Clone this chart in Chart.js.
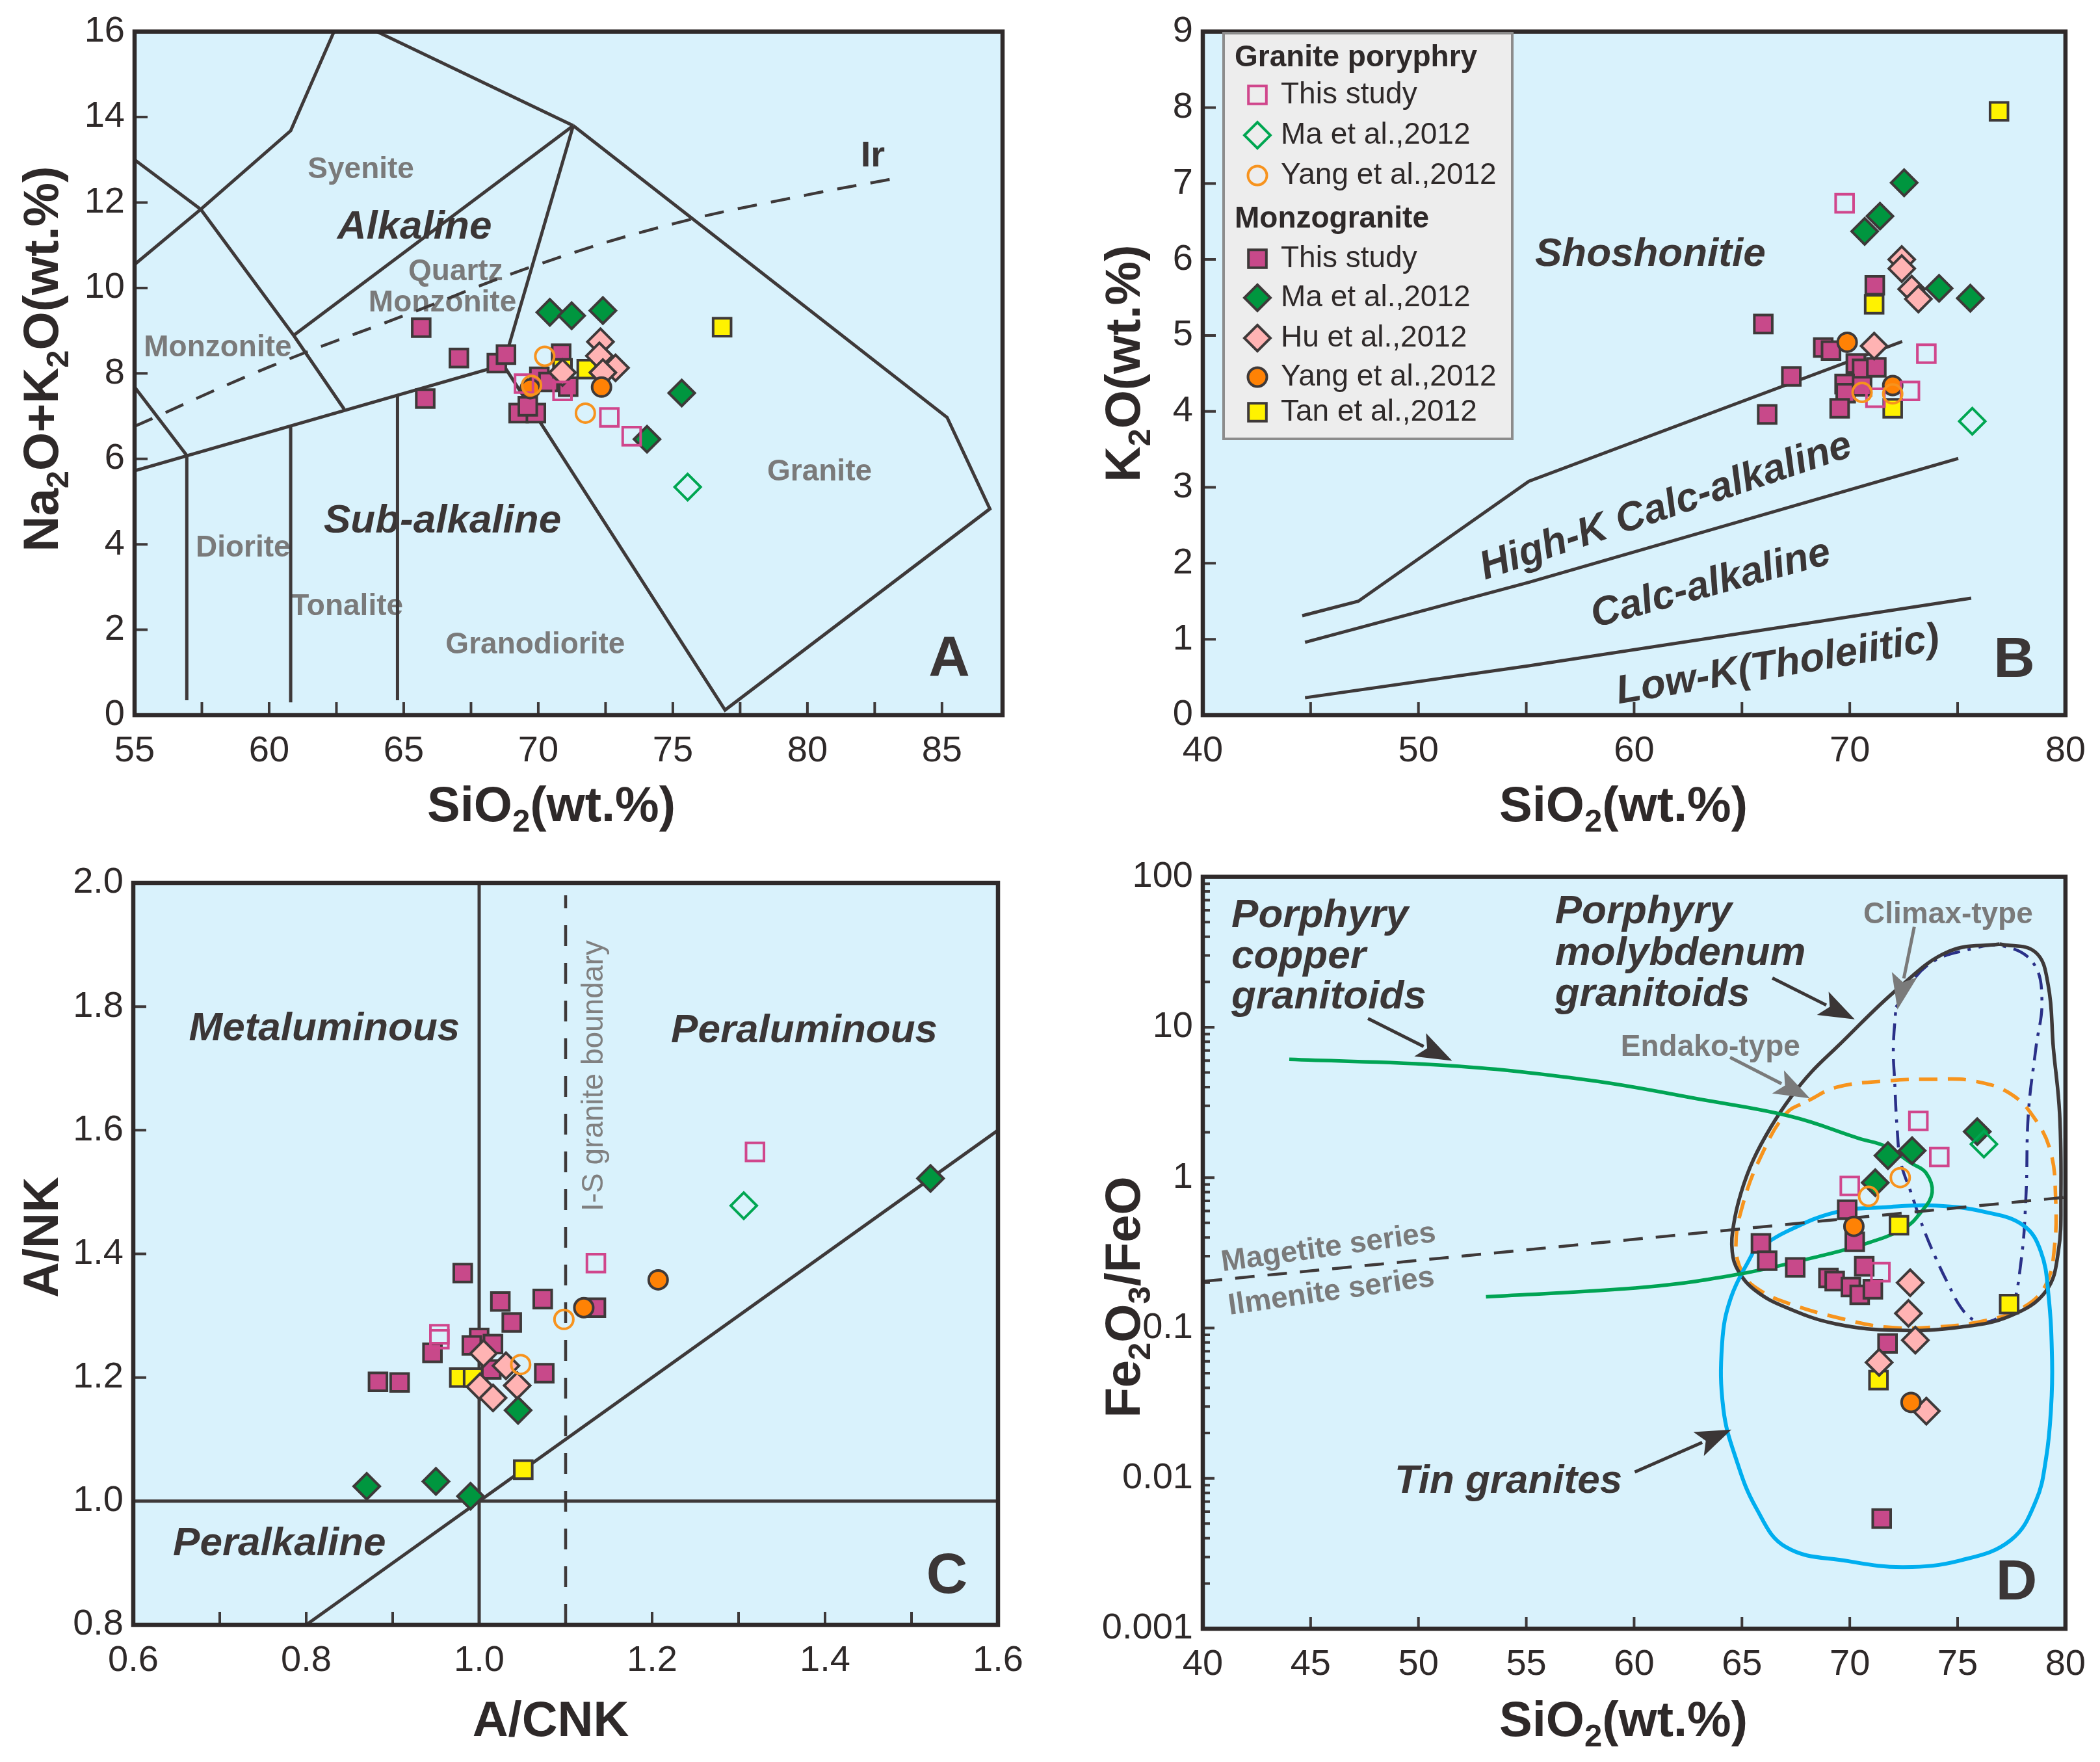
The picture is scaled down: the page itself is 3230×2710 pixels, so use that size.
<!DOCTYPE html>
<html lang="pt-br">
<head>
<meta charset="UTF-8">
<title>Diagramas geoquimicos</title>
<script src="https://cdn.jsdelivr.net/npm/chart.js"></script>
<style>
  body { margin: 0; background: #ffffff; }
  .janela { position: relative; width: 3230px; height: 2710px; background: #ffffff; overflow: hidden; }
  .janela canvas { position: absolute; }
</style>
</head>
<body>
<div class="janela">
  <canvas id="graficoA" width="1620" height="1330" style="left:0px;top:0px"></canvas>
  <canvas id="graficoB" width="1590" height="1330" style="left:1640px;top:0px"></canvas>
  <canvas id="graficoC" width="1620" height="1410" style="left:0px;top:1300px"></canvas>
  <canvas id="graficoD" width="1590" height="1410" style="left:1640px;top:1300px"></canvas>
</div>

<script>
const FONTE = '"Liberation Sans", Arial, sans-serif';
const COR_TEXTO = '#2E2929';
const COR_LINHA = '#3E3939';

// ===== Painel A: TAS (SiO2 x Na2O+K2O) =====
const tasXRotulos = [55, 60, 65, 70, 75, 80, 85];
const tasXMarcas = [57.5, 60, 62.5, 65, 67.5, 70, 72.5, 75, 77.5, 80, 82.5, 85];
const tasYRotulos = [0, 2, 4, 6, 8, 10, 12, 14, 16];
const tasYMarcas = [2, 4, 6, 8, 10, 12, 14];

const tasGpThis = [[69.47, 7.76], [70.90, 7.59], [72.64, 6.97], [73.47, 6.53]];
const tasGpMa = [[75.55, 5.34]];
const tasGpYang = [[70.24, 8.40], [71.75, 7.07], [69.75, 7.72]];
const tasMgThis = [[65.65, 9.07], [67.05, 8.36], [68.46, 8.24], [68.80, 8.44], [70.85, 8.46], [70.04, 7.92],
  [70.38, 7.80], [71.11, 7.69], [65.80, 7.41], [69.27, 7.07], [69.91, 7.07], [69.61, 7.23]];
const tasMgMa = [[70.43, 9.43], [71.24, 9.35], [72.40, 9.47], [75.33, 7.54], [74.04, 6.46]];
const tasMgHu = [[72.31, 8.74], [72.27, 8.41], [72.87, 8.13], [72.40, 8.02], [70.90, 8.02]];
const tasMgYang = [[72.35, 7.68], [69.70, 7.64]];
const tasMgTan = [[71.80, 8.10], [70.90, 8.12], [76.83, 9.08]];

const tasLinhas = [
  [[55, 10.55], [57.46, 11.84], [60.80, 13.68], [62.41, 16]],
  [[55, 13.0], [57.46, 11.84]],
  [[57.46, 11.84], [60.91, 8.89], [62.79, 7.16]],
  [[60.91, 8.89], [71.3, 13.8]],
  [[64.0, 16], [71.3, 13.8]],
  [[71.3, 13.8], [68.7, 8.2]],
  [[71.3, 13.8], [85.19, 6.97], [86.78, 4.83], [76.94, 0.12], [68.7, 8.2]],
  [[55, 5.72], [68.7, 8.2]],
  [[55, 7.68], [56.94, 6.08]],
  [[56.94, 6.08], [56.94, 0.35]],
  [[60.80, 6.79], [60.80, 0.30]],
  [[64.77, 7.51], [64.77, 0.35]]
];
const tasIr = [[55, 6.76], [60, 8.15], [65, 9.35], [70, 10.55], [75, 11.5], [80, 12.18], [83.06, 12.54]];

// ===== Painel B: SiO2 x K2O =====
const kXRotulos = [40, 50, 60, 70, 80];
const kXMarcas = [45, 50, 55, 60, 65, 70, 75];
const kYRotulos = [0, 1, 2, 3, 4, 5, 6, 7, 8, 9];
const kYMarcas = [1, 2, 3, 4, 5, 6, 7, 8];

const kGpThis = [[69.76, 6.74], [73.55, 4.76], [72.79, 4.27], [71.19, 4.18]];
const kGpMa = [[75.68, 3.87]];
const kGpYang = [[70.57, 4.25], [71.99, 4.23]];
const kMgThis = [[71.16, 5.66], [65.99, 5.15], [68.77, 4.84], [69.13, 4.80], [70.28, 4.63], [70.57, 4.56],
  [71.23, 4.58], [69.76, 4.36], [69.81, 4.24], [70.57, 4.33], [69.53, 4.04], [67.29, 4.46], [66.17, 3.96]];
const kMgMa = [[72.52, 7.01], [71.40, 6.57], [70.69, 6.37], [74.14, 5.62], [75.59, 5.49]];
const kMgHu = [[72.41, 6.00], [72.41, 5.88], [72.87, 5.61], [73.18, 5.48], [71.13, 4.86]];
const kMgYang = [[69.88, 4.91], [71.99, 4.34]];
const kMgTan = [[76.92, 7.95], [71.13, 5.41], [71.99, 4.04]];

const kLinhas = [
  [[44.61, 1.31], [47.21, 1.50], [55.12, 3.08], [72.43, 4.92]],
  [[44.74, 0.96], [55.12, 1.75], [75.03, 3.38]],
  [[44.74, 0.23], [55.12, 0.65], [75.63, 1.54]]
];

// ===== Painel C: A/CNK x A/NK =====
const acXRotulos = [0.6, 0.8, 1.0, 1.2, 1.4, 1.6];
const acXMarcas = [0.7, 0.8, 0.9, 1.0, 1.1, 1.2, 1.3, 1.4, 1.5];
const acYRotulos = [0.8, 1.0, 1.2, 1.4, 1.6, 1.8, 2.0];
const acYMarcas = [1.2, 1.4, 1.6, 1.8];

const acGpThis = [[1.135, 1.385], [0.954, 1.270], [0.954, 1.262], [1.319, 1.565]];
const acGpMa = [[1.306, 1.478]];
const acGpYang = [[1.098, 1.294], [1.048, 1.221]];
const acMgThis = [[0.981, 1.369], [1.0245, 1.323], [1.0735, 1.327], [1.0377, 1.289], [1.000, 1.264],
  [0.9915, 1.252], [1.016, 1.254], [0.946, 1.240], [1.014, 1.213], [1.0753, 1.207], [0.883, 1.193],
  [0.908, 1.192], [1.135, 1.313]];
const acMgMa = [[1.045, 1.147], [0.870, 1.024], [0.950, 1.032], [0.990, 1.008], [1.522, 1.522]];
const acMgHu = [[1.005, 1.239], [1.031, 1.219], [1.044, 1.187], [1.001, 1.185], [1.016, 1.167]];
const acMgYang = [[1.121, 1.313], [1.207, 1.358]];
const acMgTan = [[1.051, 1.051], [0.977, 1.200], [0.993, 1.200]];

const acLinhas = [
  [[1.0, 0.8], [1.0, 2.0]],
  [[0.6, 1.0], [1.6, 1.0]],
  [[0.8, 0.8], [1.6, 1.6]]
];
const acLimiteIS = [[1.1, 0.8], [1.1, 1.98]];

// ===== Painel D: SiO2 x Fe2O3/FeO =====
const feXRotulos = [40, 45, 50, 55, 60, 65, 70, 75, 80];
const feXMarcas = [45, 50, 55, 60, 65, 70, 75];
const feYRotulos = [0.001, 0.01, 0.1, 1, 10, 100];

const feGpThis = [[73.18, 2.38], [74.15, 1.37], [70.0, 0.88], [71.42, 0.235]];
const feGpMa = [[76.22, 1.67]];
const feGpYang = [[72.34, 1.0], [70.87, 0.75]];
const feMgThis = [[69.88, 0.612], [70.23, 0.374], [65.88, 0.365], [66.17, 0.280], [67.47, 0.253],
  [69.01, 0.215], [69.30, 0.205], [70.05, 0.187], [70.46, 0.166], [71.07, 0.181], [70.67, 0.257],
  [71.75, 0.0789], [71.48, 0.0054]];
const feMgMa = [[71.77, 1.40], [72.89, 1.51], [71.18, 0.925], [75.91, 2.02]];
const feMgHu = [[72.80, 0.20], [72.72, 0.125], [73.04, 0.083], [71.36, 0.059], [73.55, 0.028]];
const feMgYang = [[70.19, 0.474], [72.84, 0.032]];
const feMgTan = [[72.28, 0.482], [77.39, 0.144], [71.33, 0.045]];

const feCobre = [[44.01, 6.11], [51.43, 5.55], [57.94, 4.44], [63.15, 3.30], [67.32, 2.54], [70.44, 1.82],
  [71.68, 1.61], [72.84, 1.25], [73.53, 1.077], [73.82, 0.796], [73.30, 0.589], [72.49, 0.457],
  [70.52, 0.356], [68.2, 0.291], [64.72, 0.226], [60.55, 0.187], [53.13, 0.161]];
const feMolibdenio = [[76.95, 35.73], [78.6, 31.62], [79.2, 19.05], [79.44, 7.278], [79.73, 2.661],
  [79.79, 0.7568], [79.67, 0.3221], [79.1, 0.1762], [77.47, 0.1208], [75.15, 0.1014], [72.26, 0.0964],
  [69.36, 0.1064], [67.04, 0.1371], [65.65, 0.1762], [64.84, 0.2382], [64.55, 0.3221], [64.61, 0.4819],
  [64.96, 0.7943], [65.53, 1.315], [66.35, 2.178], [67.27, 3.428], [68.2, 5.00], [69.36, 7.278],
  [72.27, 18.28], [74.61, 31.99], [76.95, 35.73]];
const feEndako = [[68.08, 3.251], [69.36, 3.981], [71.68, 4.395], [73.99, 4.508], [75.73, 4.395],
  [77.47, 3.597], [78.63, 2.404], [79.33, 1.455], [79.54, 0.7568], [79.50, 0.3565], [79.1, 0.195],
  [78.05, 0.1371], [76.31, 0.1122], [73.99, 0.1014], [71.68, 0.1014], [69.36, 0.1178], [67.27, 0.1439],
  [65.88, 0.1762], [65.07, 0.2265], [64.72, 0.3556], [65.07, 0.684], [65.88, 1.384], [67.04, 2.661],
  [68.08, 3.251]];
const feClimax = [[72.14, 13.58], [73.57, 25.59], [75.65, 33.19], [77.21, 34.43], [78.52, 26.55],
  [78.91, 15.17], [78.63, 7.278], [78.28, 2.661], [78.17, 0.7568], [77.94, 0.2767], [77.47, 0.1303],
  [76.89, 0.1167], [76.31, 0.1094], [75.73, 0.1132], [75.15, 0.1371], [74.57, 0.195], [73.99, 0.2911],
  [73.42, 0.4571], [72.84, 0.7943], [72.37, 1.253], [72.2, 2.070], [72.08, 4.406], [72.02, 7.278],
  [72.14, 13.58]];
const feEstanho = [[65.53, 0.3221], [67.04, 0.4355], [69.36, 0.5888], [71.68, 0.6353], [73.99, 0.6516],
  [76.31, 0.5888], [78.05, 0.4808], [78.86, 0.3221], [79.21, 0.1675], [79.38, 0.0612], [79.33, 0.02884],
  [79.1, 0.01355], [78.63, 0.00708], [77.47, 0.00389], [75.15, 0.00285], [72.5, 0.00257], [69.9, 0.00282],
  [67.04, 0.00349], [65.65, 0.00638], [64.72, 0.01355], [64.14, 0.02884], [64.08, 0.0787], [64.49, 0.1592],
  [65.53, 0.3221]];
const feMagnetita = [[40, 0.204], [80, 0.74]];

// ---------- estilos das series ----------
const estilos = {
  mgThis: { pointStyle: 'rect', pointRadius: 19.5, backgroundColor: '#C8498A', borderColor: COR_LINHA, order: 9 },
  mgTan: { pointStyle: 'rect', pointRadius: 19.5, backgroundColor: '#FFF200', borderColor: COR_LINHA, order: 8 },
  mgHu: { pointStyle: 'rectRot', pointRadius: 20, backgroundColor: '#FFB3B3', borderColor: COR_LINHA, order: 7 },
  mgMa: { pointStyle: 'rectRot', pointRadius: 20, backgroundColor: '#00963F', borderColor: COR_LINHA, order: 6 },
  mgYang: { pointStyle: 'circle', pointRadius: 14.5, backgroundColor: '#FF8205', borderColor: COR_LINHA, order: 5 },
  gpThis: { pointStyle: 'rect', pointRadius: 19.5, backgroundColor: 'rgba(0,0,0,0)', borderColor: '#D0468C', order: 4 },
  gpMa: { pointStyle: 'rectRot', pointRadius: 20, backgroundColor: 'rgba(0,0,0,0)', borderColor: '#00A651', order: 3 },
  gpYang: { pointStyle: 'circle', pointRadius: 14.5, backgroundColor: 'rgba(0,0,0,0)', borderColor: '#F7931E', order: 2 }
};

function pares(dados) {
  return dados.map(p => ({ x: p[0], y: p[1] }));
}

function pontos(serie, dados) {
  const e = estilos[serie];
  return {
    data: pares(dados), showLine: false,
    pointStyle: e.pointStyle, pointRadius: e.pointRadius,
    backgroundColor: e.backgroundColor, borderColor: e.borderColor,
    borderWidth: 4, order: e.order
  };
}

function linha(dados, cor, largura, traco, tensao) {
  return {
    data: pares(dados), showLine: true, pointRadius: 0, fill: false,
    borderColor: cor, borderWidth: largura, borderDash: traco || [],
    tension: tensao || 0, order: 100
  };
}

function series(g) {
  return [
    pontos('mgThis', g.mgThis), pontos('mgTan', g.mgTan), pontos('mgHu', g.mgHu), pontos('mgMa', g.mgMa),
    pontos('mgYang', g.mgYang), pontos('gpThis', g.gpThis), pontos('gpMa', g.gpMa), pontos('gpYang', g.gpYang)
  ];
}

// ---------- anotacoes de cada painel ----------
const FONTES = {
  cinza: ['bold 46px ' + FONTE, '#7A7A7A'],
  fino: ['46px ' + FONTE, '#808080'],
  ital: ['italic bold 62px ' + FONTE, '#3B3636'],
  letra: ['bold 88px ' + FONTE, '#3B3636'],
  ir: ['bold 56px ' + FONTE, '#3B3636']
};

const legendaB = [
  { titulo: 'Granite poryphry', y: 89 },
  { serie: 'gpThis', texto: 'This study', y: 146 },
  { serie: 'gpMa', texto: 'Ma et al.,2012', y: 208 },
  { serie: 'gpYang', texto: 'Yang et al.,2012', y: 270 },
  { titulo: 'Monzogranite', y: 337 },
  { serie: 'mgThis', texto: 'This study', y: 398 },
  { serie: 'mgMa', texto: 'Ma et al.,2012', y: 458 },
  { serie: 'mgHu', texto: 'Hu et al.,2012', y: 520 },
  { serie: 'mgYang', texto: 'Yang et al.,2012', y: 580 },
  { serie: 'mgTan', texto: 'Tan et al.,2012', y: 634 }
];

const anotacoes = {
  graficoA: {
    textos: [
      { s: 'Syenite', x: 63.41, y: 12.76, f: 'cinza' },
      { s: 'Alkaline', x: 65.40, y: 11.41, f: 'ital' },
      { s: 'Quartz', x: 66.93, y: 10.38, f: 'cinza' },
      { s: 'Monzonite', x: 66.44, y: 9.64, f: 'cinza' },
      { s: 'Monzonite', x: 58.09, y: 8.59, f: 'cinza' },
      { s: 'Sub-alkaline', x: 66.44, y: 4.54, f: 'ital' },
      { s: 'Diorite', x: 59.03, y: 3.91, f: 'cinza' },
      { s: 'Tonalite', x: 62.89, y: 2.54, f: 'cinza' },
      { s: 'Granodiorite', x: 69.89, y: 1.64, f: 'cinza' },
      { s: 'Granite', x: 80.45, y: 5.68, f: 'cinza' },
      { s: 'Ir', x: 82.43, y: 13.08, f: 'ir' },
      { s: 'A', x: 85.27, y: 1.29, f: 'letra' }
    ],
    titulos: [
      { p: [['SiO', 0], ['2', 1], ['(wt.%)', 0]], x: 848, y: 1236, rot: 0 },
      { p: [['Na', 0], ['2', 1], ['O+K', 0], ['2', 1], ['O(wt.%)', 0]], x: 62, y: 552, rot: -90 }
    ],
    marcas: { x: tasXMarcas, y: tasYMarcas, tam: 20 }
  },
  graficoB: {
    textos: [
      { s: 'Shoshonitie', x: 60.75, y: 6.06, f: 'ital' },
      { s: 'High-K Calc-alkaline', x: 61.48, y: 2.74, f: 'ital', rot: -18.6 },
      { s: 'Calc-alkaline', x: 63.56, y: 1.72, f: 'ital', rot: -15.2 },
      { s: 'Low-K(Tholeiitic)', x: 66.67, y: 0.65, f: 'ital', rot: -9.5 },
      { s: 'B', x: 77.62, y: 0.71, f: 'letra' }
    ],
    titulos: [
      { p: [['SiO', 0], ['2', 1], ['(wt.%)', 0]], x: 857, y: 1236, rot: 0 },
      { p: [['K', 0], ['2', 1], ['O(wt.%)', 0]], x: 86, y: 559, rot: -90 }
    ],
    marcas: { x: kXMarcas, y: kYMarcas, tam: 20 },
    legenda: { caixa: [242, 51, 444, 624], marcaX: 294, textoX: 330, tituloX: 259, itens: legendaB }
  },
  graficoC: {
    textos: [
      { s: 'Metaluminous', x: 0.821, y: 1.763, f: 'ital' },
      { s: 'Peraluminous', x: 1.376, y: 1.760, f: 'ital' },
      { s: 'Peralkaline', x: 0.769, y: 0.930, f: 'ital' },
      { s: 'I-S granite boundary', x: 1.133, y: 1.688, f: 'fino', rot: -90 },
      { s: 'C', x: 1.541, y: 0.877, f: 'letra' }
    ],
    titulos: [
      { p: [['A/CNK', 0]], x: 847, y: 1343, rot: 0 },
      { p: [['A/NK', 0]], x: 62, y: 603, rot: -90 }
    ],
    marcas: { x: acXMarcas, y: acYMarcas, tam: 20 }
  },
  graficoD: {
    textos: [
      { s: 'Porphyry', x: 41.33, y: 46.45, f: 'ital', al: 'left', bl: 'alphabetic' },
      { s: 'copper', x: 41.33, y: 24.66, f: 'ital', al: 'left', bl: 'alphabetic' },
      { s: 'granitoids', x: 41.33, y: 13.27, f: 'ital', al: 'left', bl: 'alphabetic' },
      { s: 'Porphyry', x: 56.33, y: 49.32, f: 'ital', al: 'left', bl: 'alphabetic' },
      { s: 'molybdenum', x: 56.33, y: 25.94, f: 'ital', al: 'left', bl: 'alphabetic' },
      { s: 'granitoids', x: 56.33, y: 13.87, f: 'ital', al: 'left', bl: 'alphabetic' },
      { s: 'Climax-type', x: 74.56, y: 49.3, f: 'cinza', bl: 'alphabetic' },
      { s: 'Endako-type', x: 63.54, y: 6.44, f: 'cinza', bl: 'alphabetic' },
      { s: 'Magetite series', x: 45.83, y: 0.3396, f: 'cinza', rot: -8 },
      { s: 'Ilmenite series', x: 45.96, y: 0.1734, f: 'cinza', rot: -8 },
      { s: 'Tin granites', x: 54.17, y: 0.00948, f: 'ital' },
      { s: 'D', x: 77.73, y: 0.002, f: 'letra' }
    ],
    setas: [
      { de: [47.66, 11.43], ate: [51.56, 5.98], cor: '#3B3636' },
      { de: [66.41, 21.23], ate: [70.23, 11.27], cor: '#3B3636' },
      { de: [72.99, 46.45], ate: [72.21, 13.09], cor: '#7A7A7A' },
      { de: [64.45, 6.30], ate: [68.15, 3.37], cor: '#7A7A7A' },
      { de: [60.03, 0.01102], ate: [64.51, 0.02109], cor: '#3B3636' }
    ],
    titulos: [
      { p: [['SiO', 0], ['2', 1], ['(wt.%)', 0]], x: 857, y: 1343, rot: 0 },
      { p: [['Fe', 0], ['2', 1], ['O', 0], ['3', 1], ['/FeO', 0]], x: 86, y: 695, rot: -90 }
    ],
    marcas: { x: feXMarcas, y: feYRotulos.slice(1, -1), tam: 18, yLog: true }
  }
};

// ---------- desenho auxiliar ----------
function textoRico(ctx, t) {
  const tam = 76, tamSub = 49;
  ctx.save();
  ctx.translate(t.x, t.y);
  ctx.rotate(t.rot * Math.PI / 180);
  ctx.fillStyle = COR_TEXTO;
  ctx.textAlign = 'left';
  ctx.textBaseline = 'alphabetic';
  let total = 0;
  const larguras = t.p.map(([s, sub]) => {
    ctx.font = 'bold ' + (sub ? tamSub : tam) + 'px ' + FONTE;
    const w = ctx.measureText(s).width;
    total += w;
    return w;
  });
  let cx = -total / 2;
  t.p.forEach(([s, sub], i) => {
    ctx.font = 'bold ' + (sub ? tamSub : tam) + 'px ' + FONTE;
    ctx.fillText(s, cx, tam * 0.36 + (sub ? tam * 0.2 : 0));
    cx += larguras[i];
  });
  ctx.restore();
}

function marcador(ctx, e, x, y) {
  ctx.beginPath();
  if (e.pointStyle === 'rect') {
    const s = e.pointRadius * Math.SQRT1_2;
    ctx.rect(x - s, y - s, 2 * s, 2 * s);
  } else if (e.pointStyle === 'rectRot') {
    const r = e.pointRadius;
    ctx.moveTo(x, y - r); ctx.lineTo(x + r, y); ctx.lineTo(x, y + r); ctx.lineTo(x - r, y);
    ctx.closePath();
  } else {
    ctx.arc(x, y, e.pointRadius, 0, Math.PI * 2);
  }
  ctx.fillStyle = e.backgroundColor;
  ctx.fill();
  ctx.lineWidth = 4;
  ctx.strokeStyle = e.borderColor;
  ctx.stroke();
}

function seta(ctx, x1, y1, x2, y2, cor) {
  const ang = Math.atan2(y2 - y1, x2 - x1), L = 55, W = 20;
  const bx = x2 - L * Math.cos(ang), by = y2 - L * Math.sin(ang);
  ctx.strokeStyle = cor;
  ctx.fillStyle = cor;
  ctx.lineWidth = 5;
  ctx.beginPath(); ctx.moveTo(x1, y1); ctx.lineTo(bx + 6 * Math.cos(ang), by + 6 * Math.sin(ang)); ctx.stroke();
  ctx.beginPath();
  ctx.moveTo(x2, y2);
  ctx.lineTo(bx + W * Math.sin(ang), by - W * Math.cos(ang));
  ctx.lineTo(bx + 12 * Math.cos(ang), by + 12 * Math.sin(ang));
  ctx.lineTo(bx - W * Math.sin(ang), by + W * Math.cos(ang));
  ctx.closePath();
  ctx.fill();
}

const painelPlugin = {
  id: 'painel',
  beforeDatasetsDraw(chart) {
    const a = anotacoes[chart.canvas.id];
    const { ctx, chartArea: c } = chart;
    const sx = chart.scales.x, sy = chart.scales.y;
    ctx.save();
    ctx.fillStyle = '#D9F2FC';
    ctx.fillRect(c.left, c.top, c.width, c.height);
    a.textos.forEach(t => {
      const [fonte, cor] = FONTES[t.f];
      ctx.save();
      ctx.translate(sx.getPixelForValue(t.x), sy.getPixelForValue(t.y));
      ctx.rotate((t.rot || 0) * Math.PI / 180);
      ctx.font = fonte;
      ctx.fillStyle = cor;
      ctx.textAlign = t.al || 'center';
      ctx.textBaseline = t.bl || 'middle';
      ctx.fillText(t.s, 0, 0);
      ctx.restore();
    });
    ctx.restore();
  },
  afterDatasetsDraw(chart) {
    const a = anotacoes[chart.canvas.id];
    const { ctx, chartArea: c } = chart;
    const sx = chart.scales.x, sy = chart.scales.y;
    ctx.save();
    (a.setas || []).forEach(s => {
      seta(ctx, sx.getPixelForValue(s.de[0]), sy.getPixelForValue(s.de[1]),
        sx.getPixelForValue(s.ate[0]), sy.getPixelForValue(s.ate[1]), s.cor);
    });

    // marcas internas
    ctx.strokeStyle = COR_LINHA;
    ctx.lineWidth = 4;
    ctx.beginPath();
    a.marcas.x.forEach(v => {
      const px = sx.getPixelForValue(v);
      ctx.moveTo(px, c.bottom); ctx.lineTo(px, c.bottom - a.marcas.tam);
    });
    a.marcas.y.forEach(v => {
      const py = sy.getPixelForValue(v);
      ctx.moveTo(c.left, py); ctx.lineTo(c.left + a.marcas.tam, py);
    });
    if (a.marcas.yLog) {
      for (let d = -3; d <= 1; d++) {
        for (let m = 2; m <= 9; m++) {
          const py = sy.getPixelForValue(m * Math.pow(10, d));
          ctx.moveTo(c.left, py); ctx.lineTo(c.left + 11, py);
        }
      }
    }
    ctx.stroke();

    // moldura
    ctx.lineWidth = 6.5;
    ctx.strokeStyle = '#2F2A2A';
    ctx.strokeRect(c.left, c.top, c.width, c.height);

    // legenda
    if (a.legenda) {
      const L = a.legenda;
      ctx.fillStyle = '#EDEDED';
      ctx.fillRect(L.caixa[0], L.caixa[1], L.caixa[2], L.caixa[3]);
      ctx.lineWidth = 4;
      ctx.strokeStyle = '#8C8C8C';
      ctx.strokeRect(L.caixa[0], L.caixa[1], L.caixa[2], L.caixa[3]);
      ctx.textBaseline = 'middle';
      ctx.textAlign = 'left';
      L.itens.forEach(it => {
        if (it.titulo) {
          ctx.font = 'bold 46px ' + FONTE;
          ctx.fillStyle = COR_TEXTO;
          ctx.fillText(it.titulo, L.tituloX, it.y);
        } else {
          marcador(ctx, estilos[it.serie], L.marcaX, it.y);
          ctx.font = '46px ' + FONTE;
          ctx.fillStyle = COR_TEXTO;
          ctx.fillText(it.texto, L.textoX, it.y);
        }
      });
    }
    a.titulos.forEach(t => textoRico(ctx, t));
    ctx.restore();
  }
};
Chart.register(painelPlugin);

function eixo(tipo, min, max, rotulos, formato, tamanho, lado, padding) {
  return {
    type: tipo, min: min, max: max,
    grid: { display: false, drawTicks: false },
    border: { display: false },
    ticks: {
      padding: padding, color: COR_TEXTO, autoSkip: false, maxRotation: 0,
      font: { family: FONTE, size: 56 },
      callback: v => formato(v)
    },
    afterBuildTicks: s => { s.ticks = rotulos.map(v => ({ value: v })); },
    afterFit: s => { if (lado === 'x') { s.height = tamanho; } else { s.width = tamanho; } }
  };
}

function criarPainel(id, cfg) {
  return new Chart(document.getElementById(id), {
    type: 'scatter',
    data: { datasets: cfg.datasets },
    options: {
      responsive: false,
      animation: false,
      events: [],
      layout: { padding: { top: cfg.pad[0], right: cfg.pad[1], bottom: 0, left: 0 } },
      plugins: { legend: { display: false }, tooltip: { enabled: false } },
      scales: { x: cfg.x, y: cfg.y }
    }
  });
}

const inteiro = v => String(v);
const umaCasa = v => v.toFixed(1);

criarPainel('graficoA', {
  pad: [43, 78],
  x: eixo('linear', 55, 87.25, tasXRotulos, inteiro, 230, 'x', 22),
  y: eixo('linear', 0, 16, tasYRotulos, inteiro, 207, 'y', 15),
  datasets: [
    ...tasLinhas.map(l => linha(l, COR_LINHA, 5)),
    linha(tasIr, COR_LINHA, 4.5, [30, 22], 0.4),
    ...series({ mgThis: tasMgThis, mgTan: tasMgTan, mgHu: tasMgHu, mgMa: tasMgMa, mgYang: tasMgYang,
      gpThis: tasGpThis, gpMa: tasGpMa, gpYang: tasGpYang })
  ]
});

criarPainel('graficoB', {
  pad: [41, 47],
  x: eixo('linear', 40, 80, kXRotulos, inteiro, 230, 'x', 22),
  y: eixo('linear', 0, 9, kYRotulos, inteiro, 210, 'y', 15),
  datasets: [
    ...kLinhas.map(l => linha(l, COR_LINHA, 5)),
    ...series({ mgThis: kMgThis, mgTan: kMgTan, mgHu: kMgHu, mgMa: kMgMa, mgYang: kMgYang,
      gpThis: kGpThis, gpMa: kGpMa, gpYang: kGpYang })
  ]
});

criarPainel('graficoC', {
  pad: [58, 85],
  x: eixo('linear', 0.6, 1.6, acXRotulos, umaCasa, 211, 'x', 22),
  y: eixo('linear', 0.8, 2.0, acYRotulos, umaCasa, 205, 'y', 15),
  datasets: [
    ...acLinhas.map(l => linha(l, COR_LINHA, 5)),
    linha(acLimiteIS, COR_LINHA, 4.5, [32, 26]),
    ...series({ mgThis: acMgThis, mgTan: acMgTan, mgHu: acMgHu, mgMa: acMgMa, mgYang: acMgYang,
      gpThis: acGpThis, gpMa: acGpMa, gpYang: acGpYang })
  ]
});

criarPainel('graficoD', {
  pad: [40, 47],
  x: eixo('linear', 40, 80, feXRotulos, inteiro, 205, 'x', 22),
  y: eixo('logarithmic', 0.001, 100, feYRotulos, inteiro, 210, 'y', 15),
  datasets: [
    linha(feMagnetita, COR_LINHA, 4.5, [30, 20]),
    linha(feCobre, '#00A454', 5.5, [], 0.4),
    linha(feEstanho, '#00AEEF', 6, [], 0.4),
    linha(feMolibdenio, COR_LINHA, 5.5, [], 0.4),
    linha(feEndako, '#F7941D', 5.5, [28, 16], 0.4),
    linha(feClimax, '#2A3088', 4.5, [26, 12, 5, 12], 0.4),
    ...series({ mgThis: feMgThis, mgTan: feMgTan, mgHu: feMgHu, mgMa: feMgMa, mgYang: feMgYang,
      gpThis: feGpThis, gpMa: feGpMa, gpYang: feGpYang })
  ]
});
</script>
</body>
</html>
